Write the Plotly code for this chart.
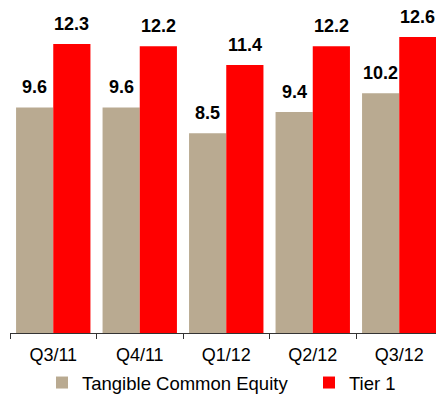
import plotly.graph_objects as go

categories = ["Q3/11", "Q4/11", "Q1/12", "Q2/12", "Q3/12"]
tce = [9.6, 9.6, 8.5, 9.4, 10.2]
tier1 = [12.3, 12.2, 11.4, 12.2, 12.6]

FONT = "Liberation Sans, Arial"
BARGAP = 0.14
W, H = 436, 400
ML, MB = 10, 67
PLOT_W = W - ML
PLOT_H = H - MB
CAT_PX = 86.5
X_RANGE = [-0.5, -0.5 + PLOT_W / CAT_PX]
Y_TOP = PLOT_H / 23.5

fig = go.Figure()
fig.add_trace(go.Bar(name="Tangible Common Equity", x=categories, y=tce, legend="legend",
                     marker=dict(color="#B9AA91", line=dict(width=0))))
fig.add_trace(go.Bar(name="Tier 1", x=categories, y=tier1, legend="legend2",
                     marker=dict(color="#FF0000", line=dict(width=0))))

# value labels above each bar
half = (1 - BARGAP) * CAT_PX / 4
for series, sign in ((tce, -1), (tier1, 1)):
    for c, v in zip(categories, series):
        fig.add_annotation(x=c, y=v, text=f"<b>{v:.1f}</b>", showarrow=False,
                           xanchor="center", yanchor="bottom", xshift=sign * half, yshift=8,
                           font=dict(family=FONT, size=18, color="black"))

leg_common = dict(orientation="h", xanchor="left", y=-50 / PLOT_H, yanchor="middle",
                  font=dict(family=FONT, size=18.5, color="black"), bgcolor="rgba(0,0,0,0)")
fig.update_layout(
    width=W, height=H,
    margin=dict(l=ML, r=0, t=0, b=MB, autoexpand=False),
    barmode="group", bargap=BARGAP, bargroupgap=0,
    plot_bgcolor="white", paper_bgcolor="white",
    font=dict(family=FONT, size=18, color="black"),
    showlegend=True,
    legend=dict(x=32 / PLOT_W, **leg_common),
    legend2=dict(x=299 / PLOT_W, **leg_common),
)
fig.update_xaxes(range=X_RANGE, showline=True, linecolor="#333333", linewidth=1,
                 ticks="outside", tickson="boundaries", ticklen=5, tickcolor="#333333",
                 tickfont=dict(size=18), ticklabelstandoff=5, showgrid=False)
fig.update_yaxes(range=[0, Y_TOP], visible=False, showgrid=False)

fig.write_html("out.html", config={"displayModeBar": False},
               post_script="document.body.style.margin='0';"
                           "document.documentElement.style.overflow='hidden';")
